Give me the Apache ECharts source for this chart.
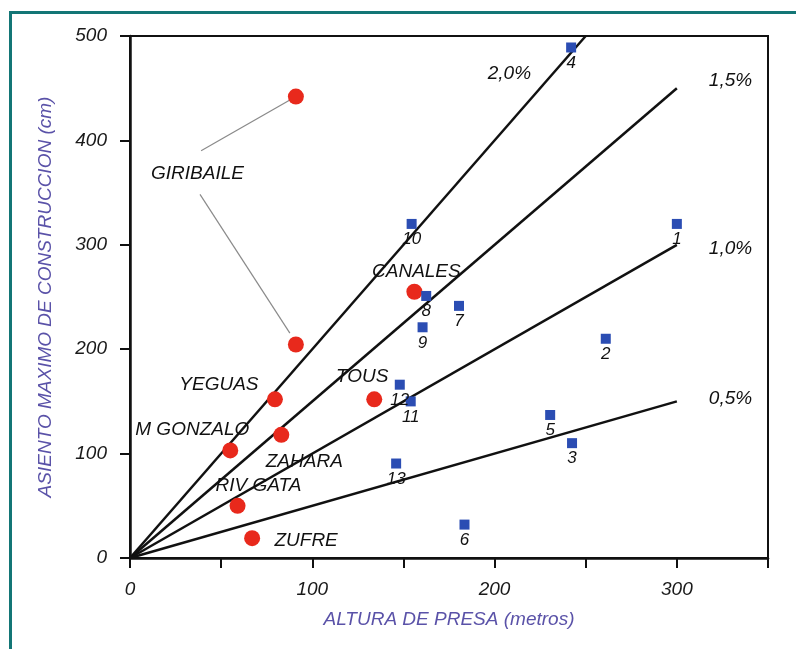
<!DOCTYPE html>
<html>
<head>
<meta charset="utf-8">
<script src="https://cdn.jsdelivr.net/npm/echarts@6/dist/echarts.min.js"></script>
<style>
html,body{margin:0;padding:0;background:#fff;}
#chart{width:796px;height:649px;}
</style>
</head>
<body>
<div id="chart"></div>
<script>
// ---- data ----
const damNames = ['GIRIBAILE', 'GIRIBAILE', 'YEGUAS', 'ZAHARA', 'M GONZALO', 'RIV GATA', 'ZUFRE', 'TOUS', 'CANALES'];
const damHeight = [91, 91, 79.5, 83, 55, 59, 67, 134, 156];
const damSettlement = [442, 204.5, 152, 118, 103, 50, 19, 152, 255];

const caseIds = ['1', '2', '3', '4', '5', '6', '7', '8', '9', '10', '11', '12', '13'];
const caseHeight = [300, 261, 242.5, 242, 230.5, 183.5, 180.5, 162.5, 160.5, 154.5, 154, 148, 146];
const caseSettlement = [320, 210, 110, 489, 137, 32, 241.5, 251, 221, 320, 150, 166, 90.5];

const rateLabels = ['2,0%', '1,5%', '1,0%', '0,5%'];
const rateLineEnds = [[250, 500], [300, 450], [300, 300], [300, 150]];

const xTicks = [0, 100, 200, 300];
const yTicks = [0, 100, 200, 300, 400, 500];

// annotation anchor for the shared GIRIBAILE label and its leader lines (data coords)
const giribaileLabelAt = [37, 367.7];
const giribaileLeaders = [[[39, 390], [87.7, 438.6]], [[38.4, 348.3], [87.7, 215.4]]];

// ---- styles ----
const FONT = 'Liberation Sans, Arial, sans-serif';
const labelOffsets = {
  'YEGUAS': [-56, -15], 'ZAHARA': [23, 27], 'M GONZALO': [-38, -21],
  'RIV GATA': [21, -20], 'ZUFRE': [54, 3], 'TOUS': [-12, -23], 'CANALES': [2, -20]
};
const rateLabelOffsets = [[-106, 38], [24, -7], [24, 4], [24, -3]];

const chart = echarts.init(document.getElementById('chart'), null, {renderer: 'canvas'});

const series = [];
rateLineEnds.forEach((end, i) => {
  series.push({
    type: 'line', name: rateLabels[i], data: [[0, 0], end],
    symbol: 'none', silent: true, z: 2,
    lineStyle: {color: '#111', width: 2.5},
    endLabel: {
      show: true, formatter: rateLabels[i], offset: rateLabelOffsets[i],
      fontFamily: FONT, fontStyle: 'italic', fontSize: 19, color: '#111'
    }
  });
});
giribaileLeaders.forEach(seg => {
  series.push({
    type: 'line', data: seg, symbol: 'none', silent: true, z: 2,
    lineStyle: {color: '#8a8a8a', width: 1.2}
  });
});
series.push({
  type: 'scatter', symbol: 'circle', symbolSize: 16, z: 4,
  itemStyle: {color: '#e8291c', opacity: 1},
  data: damNames.map((n, i) => {
    const off = labelOffsets[n];
    return {
      value: [damHeight[i], damSettlement[i]], name: n,
      label: off ? {show: true, position: 'inside', offset: off, formatter: n} : {show: false}
    };
  }),
  label: {fontFamily: FONT, fontStyle: 'italic', fontSize: 19, color: '#111', opacity: 1}
});
series.push({
  type: 'scatter', symbol: 'rect', symbolSize: 10, z: 5,
  itemStyle: {color: '#2b4db3', opacity: 1},
  data: caseIds.map((id, i) => ({value: [caseHeight[i], caseSettlement[i]], name: id})),
  label: {show: true, position: 'bottom', distance: 2, formatter: p => p.name, opacity: 1,
    fontFamily: FONT, fontStyle: 'italic', fontSize: 17, color: '#111'}
});
series.push({
  type: 'scatter', symbolSize: 0, silent: true, z: 5,
  itemStyle: {opacity: 1},
  data: [{value: giribaileLabelAt, name: 'GIRIBAILE'}],
  label: {show: true, position: 'inside', formatter: 'GIRIBAILE', opacity: 1,
    fontFamily: FONT, fontStyle: 'italic', fontSize: 19, color: '#111'}
});

const axisText = {fontFamily: FONT, fontStyle: 'italic', fontSize: 19, color: '#1a1a1a'};
const titleText = {fontFamily: FONT, fontStyle: 'italic', fontSize: 19, color: '#5a52a8'};

chart.setOption({
  animation: false,
  backgroundColor: '#ffffff',
  grid: {left: 130, top: 36, width: 638, height: 522, show: true, borderColor: '#111', borderWidth: 2},
  xAxis: {
    type: 'value', min: 0, max: 350, interval: 50,
    axisLine: {show: true, lineStyle: {color: '#111', width: 2.5}},
    axisTick: {show: true, length: 10, lineStyle: {color: '#111', width: 2}},
    axisLabel: Object.assign({margin: 22, formatter: v => xTicks.includes(v) ? String(v) : ''}, axisText),
    splitLine: {show: false},
    name: 'ALTURA DE PRESA (metros)', nameLocation: 'middle', nameGap: 52, nameTextStyle: titleText
  },
  yAxis: {
    type: 'value', min: 0, max: 500, interval: 100,
    axisLine: {show: true, lineStyle: {color: '#111', width: 2.5}},
    axisTick: {show: true, length: 10, lineStyle: {color: '#111', width: 2}},
    axisLabel: Object.assign({margin: 23, formatter: v => yTicks.includes(v) ? String(v) : ''}, axisText),
    splitLine: {show: false},
    name: 'ASIENTO MAXIMO DE CONSTRUCCION (cm)', nameLocation: 'middle', nameGap: 75, nameTextStyle: titleText
  },
  graphic: [
    {type: 'rect', shape: {x: 9, y: 11, width: 3, height: 640}, style: {fill: '#137676'}, silent: true},
    {type: 'rect', shape: {x: 9, y: 11, width: 790, height: 3}, style: {fill: '#137676'}, silent: true}
  ],
  series: series
});
</script>
</body>
</html>
